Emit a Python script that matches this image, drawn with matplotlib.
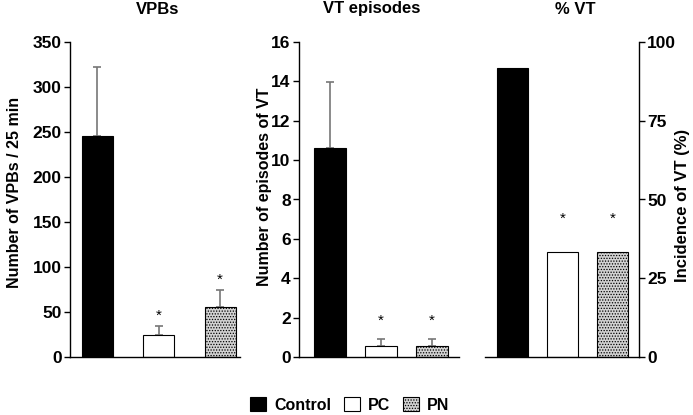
import matplotlib
matplotlib.use("Agg")
import matplotlib.pyplot as plt
from matplotlib.patches import Patch

plt.rcParams['font.family'] = ['Liberation Sans', 'DejaVu Sans']
plt.rcParams['hatch.color'] = '#666666'
plt.rcParams['hatch.linewidth'] = 0.6

groups = ["Control", "PC", "PN"]
vpb_mean = [246, 25, 56]
vpb_err = [76, 9, 18]
vt_mean = [10.6, 0.55, 0.55]
vt_err = [3.35, 0.35, 0.35]
pct_vt = [91.7, 33.3, 33.3]
sig = [False, True, True]

colors = ['black', 'white', '#d2d2d2']
hatches = [None, None, '......']

W, H = 693, 415
fig = plt.figure(figsize=(W/100, H/100), dpi=100)

def ax_at(l, r, b=357, t=42):
    return fig.add_axes([l/W, 1-b/H, (r-l)/W, (b-t)/H])

ax1 = ax_at(70, 240)
ax2 = ax_at(299, 459)
ax3 = ax_at(485, 639)

def draw(ax, vals, errs, width, xlim, ylim, yticks, title, tx, ylabel, lx, ly, lsize,
         star_off, right=False):
    for i, v in enumerate(vals):
        ax.bar(i, v, width=width, color=colors[i], edgecolor='black', linewidth=0.8,
               hatch=hatches[i], zorder=2)
        if errs is not None:
            ax.errorbar(i, v, yerr=[[0], [errs[i]]], fmt='none', ecolor='#777777',
                        elinewidth=1.2, capsize=3, capthick=1.2, zorder=1)
        if sig[i]:
            top = v + (errs[i] if errs is not None else 0)
            ax.text(i, top + star_off, '*', ha='center', va='center', fontsize=11)
    ax.set_xlim(*xlim)
    ax.set_ylim(*ylim)
    ax.set_yticks(yticks)
    ax.set_xticks([])
    ax.spines['top'].set_visible(False)
    if right:
        ax.spines['left'].set_visible(False)
        ax.yaxis.tick_right()
    else:
        ax.spines['right'].set_visible(False)
    ax.tick_params(axis='y', direction='out', length=4, width=1, labelsize=12.5, pad=2)
    for lab in ax.get_yticklabels():
        lab.set_fontweight('bold')
    for s in ['left', 'right', 'bottom']:
        ax.spines[s].set_linewidth(1)
    fig.text(tx/W, 1-9/H, title, ha='center', va='center', fontsize=12, fontweight='bold')
    fig.text(lx/W, 1-ly/H, ylabel, ha='center', va='center', rotation=90,
             fontsize=lsize, fontweight='bold')

draw(ax1, vpb_mean, vpb_err, 0.504, (-0.447, 2.325), (0, 350), range(0, 351, 50),
     'VPBs', 158, 'Number of VPBs / 25 min', 15, 192, 11.5, 12)
draw(ax2, vt_mean, vt_err, 0.63, (-0.61, 2.54), (0, 16), range(0, 17, 2),
     'VT episodes', 372, 'Number of episodes of VT', 264, 187, 11.5, 0.95)
draw(ax3, pct_vt, None, 0.62, (-0.55, 2.53), (0, 100), [0, 25, 50, 75, 100],
     '% VT', 575, 'Incidence of VT (%)', 683, 205, 12, 10.5, right=True)

handles = [Patch(facecolor=colors[i], edgecolor='black', hatch=hatches[i], linewidth=0.8)
           for i in range(3)]
leg = fig.legend(handles, groups, loc='center', bbox_to_anchor=(350/W, 1-405/H), ncol=3,
                 frameon=False, fontsize=11.5, handlelength=1.0, handleheight=1.0,
                 handletextpad=0.5, columnspacing=0.8)
for t in leg.get_texts():
    t.set_fontweight('bold')

fig.savefig('out.png', dpi=100)
